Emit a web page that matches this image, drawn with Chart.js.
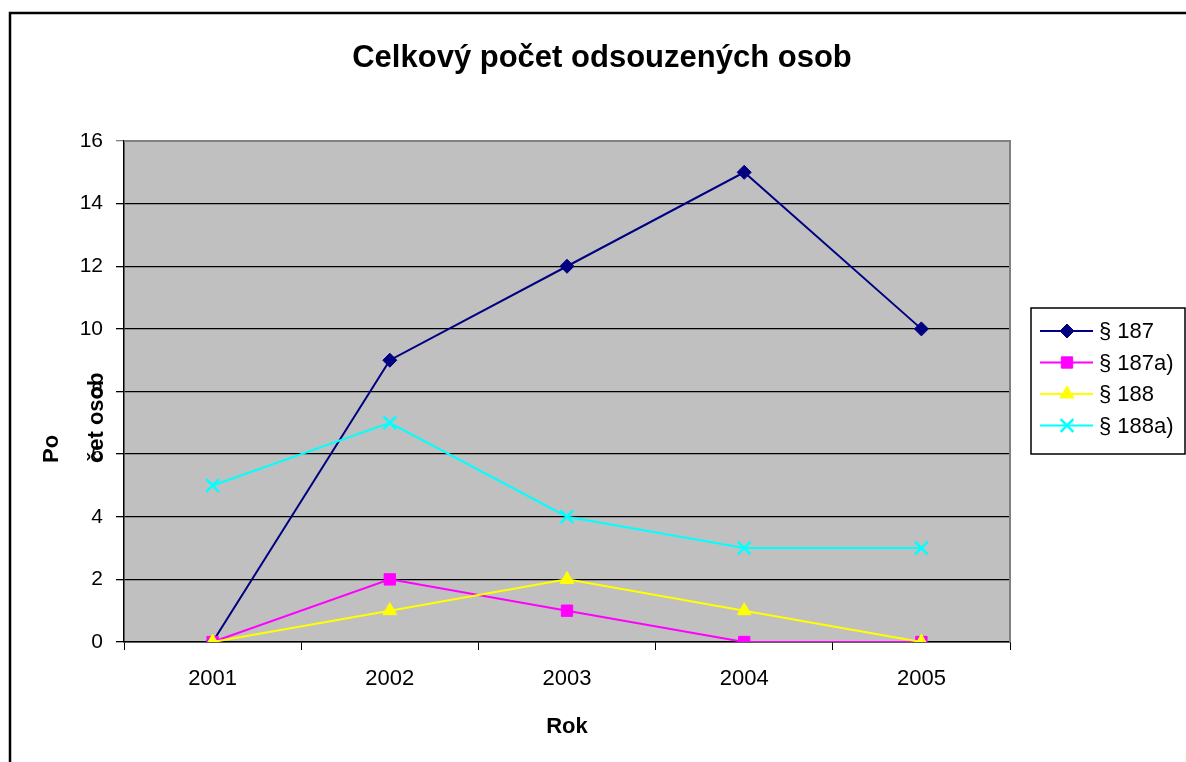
<!DOCTYPE html>
<html>
<head>
<meta charset="utf-8">
<script src="https://cdn.jsdelivr.net/npm/chart.js@4/dist/chart.umd.min.js"></script>
<style>
  html, body { margin: 0; padding: 0; background: #fff; }
  #wrap { width: 1186px; height: 762px; }
</style>
</head>
<body>
<div id="wrap"><canvas id="chart" width="1186" height="762"></canvas></div>
<script>
const years = ['2001', '2002', '2003', '2004', '2005'];
const s187 = [0, 9, 12, 15, 10];
const s187a = [0, 2, 1, 0, 0];
const s188 = [0, 1, 2, 1, 0];
const s188a = [5, 7, 4, 3, 3];
const seriesNames = ['§ 187', '§ 187a)', '§ 188', '§ 188a)'];

const FONT = '"Liberation Sans", Arial, sans-serif';

// plot background, frame, title, y title, legend
const decor = {
    id: 'decor',
    beforeDraw(chart) {
        const ctx = chart.ctx, a = chart.chartArea;
        ctx.save();
        ctx.fillStyle = '#fff';
        ctx.fillRect(0, 0, chart.width, chart.height);
        ctx.fillStyle = '#c0c0c0';
        ctx.fillRect(a.left, a.top, a.right - a.left, a.bottom - a.top);
        ctx.restore();
    },
    beforeDatasetsDraw(chart) {
        const ctx = chart.ctx, a = chart.chartArea;
        ctx.save();
        ctx.strokeStyle = '#808080';
        ctx.lineWidth = 2;
        ctx.beginPath();
        ctx.moveTo(a.left, a.top);
        ctx.lineTo(a.right, a.top);
        ctx.lineTo(a.right, a.bottom);
        ctx.stroke();
        ctx.restore();
    },
    afterDraw(chart) {
        const ctx = chart.ctx;
        ctx.save();
        // outer frame
        ctx.strokeStyle = '#000';
        ctx.lineWidth = 2.5;
        ctx.strokeRect(10, 13, 1400, 1000);

        // title
        ctx.fillStyle = '#000';
        ctx.font = 'bold 31px ' + FONT;
        ctx.textAlign = 'center';
        ctx.textBaseline = 'middle';
        ctx.fillText('Celkový počet odsouzených osob', 602, 58);

        // y axis title (as laid out in the source)
        ctx.font = 'bold 22px ' + FONT;
        ctx.textAlign = 'left';
        [['Po', 52], ['čet osob', 97]].forEach(([t, x]) => {
            ctx.save();
            ctx.translate(x, 463);
            ctx.rotate(-Math.PI / 2);
            ctx.fillText(t, 0, 0);
            ctx.restore();
        });

        // legend
        ctx.fillStyle = '#fff';
        ctx.fillRect(1031, 308, 154, 146);
        ctx.strokeStyle = '#000';
        ctx.lineWidth = 1.5;
        ctx.strokeRect(1031, 308, 154, 146);
        ctx.font = '22px ' + FONT;
        ctx.textBaseline = 'middle';
        chart.data.datasets.forEach((ds, i) => {
            const y = 331 + i * 31.5;
            ctx.strokeStyle = ds.borderColor;
            ctx.lineWidth = ds.borderWidth;
            ctx.beginPath();
            ctx.moveTo(1040, y);
            ctx.lineTo(1093, y);
            ctx.stroke();
            ctx.fillStyle = ds.pointBackgroundColor;
            ctx.strokeStyle = ds.pointBorderColor;
            ctx.lineWidth = ds.pointBorderWidth;
            Chart.helpers.drawPoint(ctx, {
                pointStyle: ds.pointStyle, rotation: 0,
                radius: ds.pointRadius, borderWidth: ds.pointBorderWidth
            }, 1067, y);
            ctx.fillStyle = '#000';
            ctx.fillText(ds.label, 1099, y + 1);
        });
        ctx.restore();
    }
};

new Chart(document.getElementById('chart'), {
    type: 'line',
    data: {
        labels: years,
        datasets: [{
            label: seriesNames[0],
            data: s187,
            borderColor: '#000080',
            pointBackgroundColor: '#000080',
            pointBorderColor: '#000080',
            pointStyle: 'rectRot',
            pointRadius: 7,
            pointBorderWidth: 1,
            borderWidth: 2,
            order: 4
        }, {
            label: seriesNames[1],
            data: s187a,
            borderColor: '#ff00ff',
            pointBackgroundColor: '#ff00ff',
            pointBorderColor: '#ff00ff',
            pointStyle: 'rect',
            pointRadius: 8,
            pointBorderWidth: 1,
            borderWidth: 2,
            order: 3
        }, {
            label: seriesNames[2],
            data: s188,
            borderColor: '#ffff00',
            pointBackgroundColor: '#ffff00',
            pointBorderColor: '#ffff00',
            pointStyle: 'triangle',
            pointRadius: 8,
            pointBorderWidth: 1,
            borderWidth: 2,
            order: 2
        }, {
            label: seriesNames[3],
            data: s188a,
            borderColor: '#00ffff',
            pointBackgroundColor: '#00ffff',
            pointBorderColor: '#00ffff',
            pointStyle: 'crossRot',
            pointRadius: 9,
            pointBorderWidth: 2.5,
            borderWidth: 2,
            order: 1
        }]
    },
    options: {
        responsive: false,
        animation: false,
        layout: { padding: { left: 0, top: 141, right: 176, bottom: 0 } },
        elements: { line: { tension: 0 } },
        plugins: {
            legend: { display: false },
            title: { display: false },
            tooltip: { enabled: false }
        },
        scales: {
            x: {
                offset: true,
                grid: { drawOnChartArea: false, offset: true, color: '#000', tickLength: 8 },
                border: { color: '#000', width: 1.5 },
                ticks: { color: '#000', padding: 16, font: { family: FONT, size: 22 } },
                title: {
                    display: true, text: 'Rok', color: '#000',
                    font: { family: FONT, size: 22, weight: 'bold' },
                    padding: { top: 0, bottom: 22 }
                },
                afterFit(scale) { scale.height = 120; }
            },
            y: {
                min: 0, max: 16,
                ticks: { stepSize: 2, color: '#000', padding: 13, font: { family: FONT, size: 21 } },
                grid: {
                    color: c => (c.tick && c.tick.value === 16 ? '#808080' : '#000'),
                    lineWidth: 1.3,
                    tickLength: 8
                },
                border: { color: '#000', width: 1.5 },
                afterFit(scale) { scale.width = 124; }
            }
        }
    },
    plugins: [decor]
});
</script>
</body>
</html>
